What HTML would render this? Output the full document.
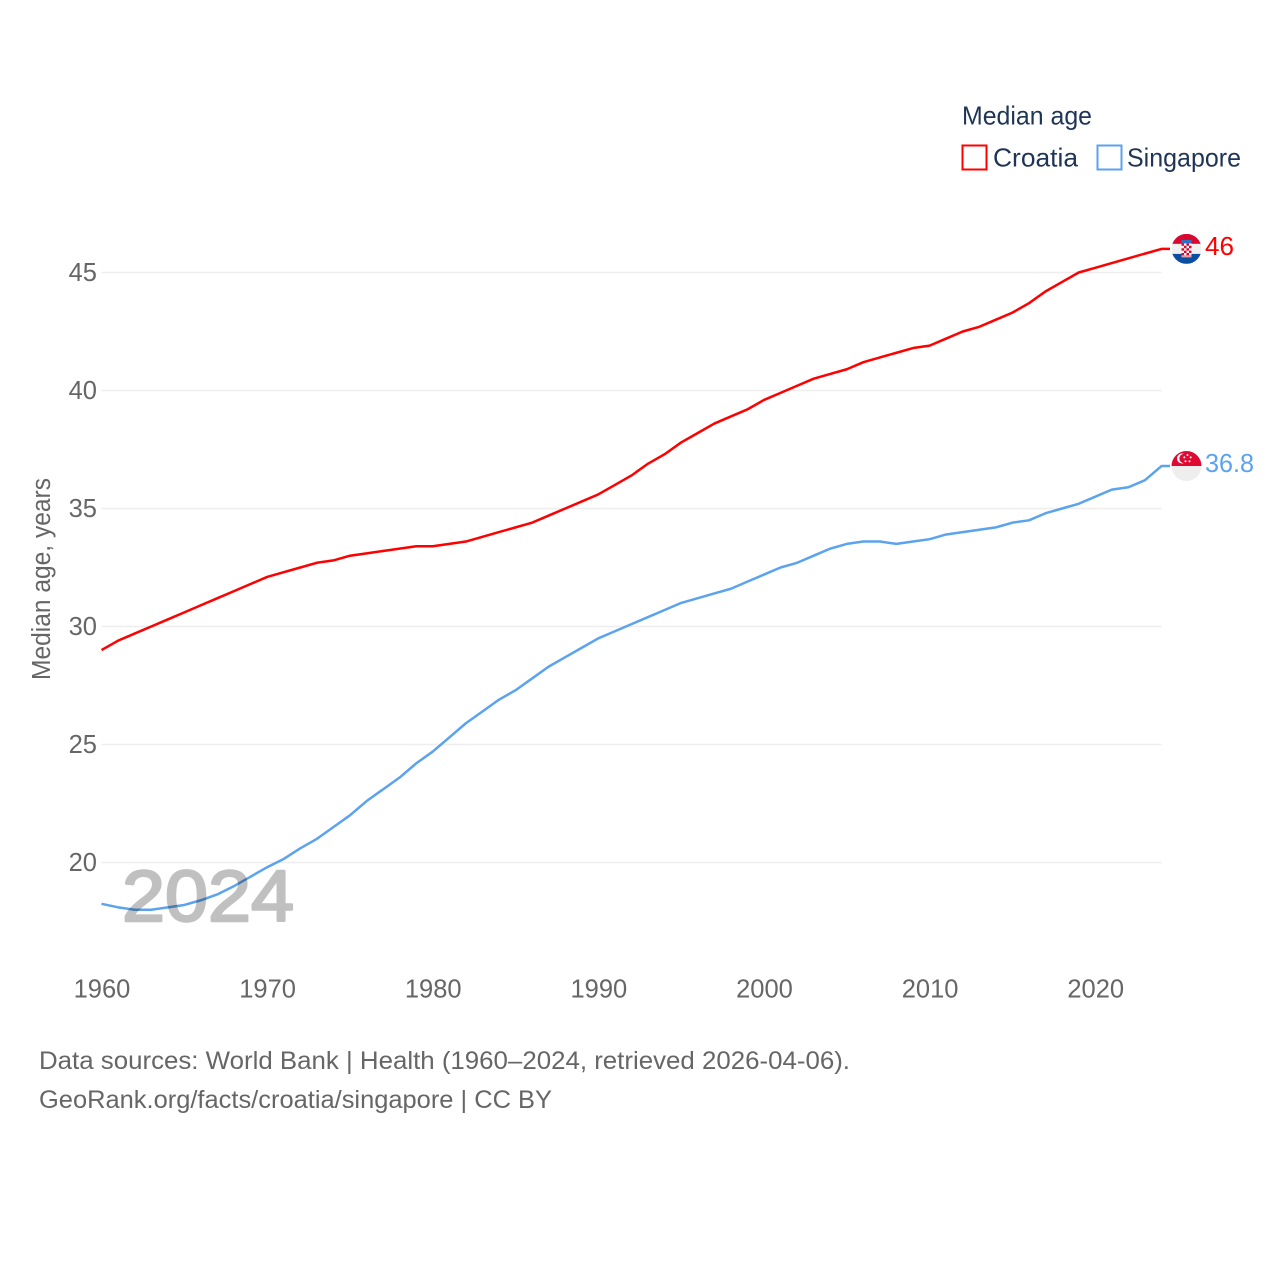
<!DOCTYPE html>
<html lang="en">
<head>
<meta charset="utf-8">
<title>Median age: Croatia and Singapore</title>
<style>
html,body{margin:0;padding:0;background:#fff;width:1280px;height:1280px;overflow:hidden}
svg{display:block}
text{font-family:"Liberation Sans",sans-serif}
.tick{font-size:25.5px;fill:#666}
.foot{font-size:25px;fill:#666}
.leg{font-size:26px;fill:#1f3556}
</style>
</head>
<body>
<svg id="chart" width="1280" height="1280" viewBox="0 0 1280 1280" xmlns="http://www.w3.org/2000/svg">
  <defs>
    <clipPath id="flag-clip"><circle cx="0" cy="0" r="15"/></clipPath>
  </defs>
  <g id="grid"></g>
  <g id="yticks"></g>
  <g id="xticks"></g>
  <text class="tick" transform="translate(50,579) rotate(-90)" text-anchor="middle" textLength="202" lengthAdjust="spacingAndGlyphs">Median age, years</text>
  <g id="series"></g>
  <text x="122" y="921" font-size="72" fill="#c0c0c0" stroke="#c0c0c0" stroke-width="2.4" stroke-linejoin="round" textLength="172" lengthAdjust="spacingAndGlyphs" style="mix-blend-mode:multiply">2024</text>

  <g id="flag-croatia">
    <g clip-path="url(#flag-clip)">
      <rect x="-15" y="-15" width="30" height="10" fill="#d8082f"/>
      <rect x="-15" y="-5" width="30" height="10" fill="#f0f0f0"/>
      <rect x="-15" y="5" width="30" height="10" fill="#0b4ea2"/>
      <rect x="-5" y="-9" width="10" height="3.5" fill="#2f6fc4"/>
      <rect x="-5" y="-5.5" width="10" height="12" fill="#f3f3f3"/>
      <path d="M-5-5.5h2.5v2.4H-5zM0-5.5h2.5v2.4H0zM-2.5-3.1H0v2.4h-2.5zM2.5-3.1H5v2.4H2.5zM-5-.7h2.5v2.4H-5zM0-.7h2.5v2.4H0zM-2.5 1.7H0v2.4h-2.5zM2.5 1.7H5v2.4H2.5zM-5 4.1h2.5v2.4H-5zM0 4.1h2.5v2.4H0z" fill="#d8082f"/>
      <rect x="-5" y="6.5" width="10" height="2" fill="#e8a0a8"/>
    </g>
  </g>
  <g id="flag-singapore">
    <g clip-path="url(#flag-clip)">
      <rect x="-15" y="-15" width="30" height="15" fill="#df0a33"/>
      <rect x="-15" y="0" width="30" height="15" fill="#eeeeee"/>
      <circle cx="-4.5" cy="-7.5" r="5" fill="#fff"/>
      <circle cx="-2.6" cy="-7.5" r="4.6" fill="#df0a33"/>
      <g fill="#fff">
        <circle cx="1" cy="-11" r="1"/>
        <circle cx="4.2" cy="-8.6" r="1"/>
        <circle cx="3" cy="-4.8" r="1"/>
        <circle cx="-1" cy="-4.8" r="1"/>
        <circle cx="-2.2" cy="-8.6" r="1"/>
      </g>
    </g>
  </g>
  <text id="value-croatia" x="1205" font-size="26" fill="#ff0000" textLength="29" lengthAdjust="spacingAndGlyphs"></text>
  <text id="value-singapore" x="1205" font-size="26" fill="#5ba3ee" textLength="49" lengthAdjust="spacingAndGlyphs"></text>

  <g>
    <text class="leg" x="962" y="124.5" textLength="130" lengthAdjust="spacingAndGlyphs">Median age</text>
    <rect x="962.5" y="145.5" width="24" height="24" fill="none" stroke="#ff0000" stroke-width="2"/>
    <text class="leg" x="993" y="166.5" textLength="85" lengthAdjust="spacingAndGlyphs">Croatia</text>
    <rect x="1097.5" y="145.5" width="24" height="24" fill="none" stroke="#5ba3ee" stroke-width="2"/>
    <text class="leg" x="1127" y="166.5" textLength="114" lengthAdjust="spacingAndGlyphs">Singapore</text>
  </g>

  <text class="foot" x="39" y="1069" textLength="811" lengthAdjust="spacingAndGlyphs">Data sources: World Bank | Health (1960–2024, retrieved 2026-04-06).</text>
  <text class="foot" x="39" y="1108" textLength="513" lengthAdjust="spacingAndGlyphs">GeoRank.org/facts/croatia/singapore | CC BY</text>
</svg>
<script>
const years = [1960,1961,1962,1963,1964,1965,1966,1967,1968,1969,1970,1971,1972,1973,1974,1975,1976,1977,1978,1979,1980,1981,1982,1983,1984,1985,1986,1987,1988,1989,1990,1991,1992,1993,1994,1995,1996,1997,1998,1999,2000,2001,2002,2003,2004,2005,2006,2007,2008,2009,2010,2011,2012,2013,2014,2015,2016,2017,2018,2019,2020,2021,2022,2023,2024];
const croatia = [29.0,29.4,29.7,30.0,30.3,30.6,30.9,31.2,31.5,31.8,32.1,32.3,32.5,32.7,32.8,33.0,33.1,33.2,33.3,33.4,33.4,33.5,33.6,33.8,34.0,34.2,34.4,34.7,35.0,35.3,35.6,36.0,36.4,36.9,37.3,37.8,38.2,38.6,38.9,39.2,39.6,39.9,40.2,40.5,40.7,40.9,41.2,41.4,41.6,41.8,41.9,42.2,42.5,42.7,43.0,43.3,43.7,44.2,44.6,45.0,45.2,45.4,45.6,45.8,46.0];
const singapore = [18.25,18.1,18.0,18.0,18.1,18.2,18.4,18.65,19.0,19.4,19.8,20.15,20.6,21.0,21.5,22.0,22.6,23.1,23.6,24.2,24.7,25.3,25.9,26.4,26.9,27.3,27.8,28.3,28.7,29.1,29.5,29.8,30.1,30.4,30.7,31.0,31.2,31.4,31.6,31.9,32.2,32.5,32.7,33.0,33.3,33.5,33.6,33.6,33.5,33.6,33.7,33.9,34.0,34.1,34.2,34.4,34.5,34.8,35.0,35.2,35.5,35.8,35.9,36.2,36.8];
const yTickValues = [20,25,30,35,40,45];
const xTickValues = [1960,1970,1980,1990,2000,2010,2020];

const NS = 'http://www.w3.org/2000/svg';
const x = function (year) { return 101.5 + (year - 1960) * (1060 / 64); };
const y = function (value) { return 272.5 + (45 - value) * 23.6; };
const END_X = 1170;

const grid = document.getElementById('grid');
const yticks = document.getElementById('yticks');
const xticks = document.getElementById('xticks');
const series = document.getElementById('series');

yTickValues.forEach(function (v) {
  const line = document.createElementNS(NS, 'line');
  
  
  line.setAttribute('x1', x(1960));
  line.setAttribute('x2', x(2024));
  line.setAttribute('y1', y(v));
  line.setAttribute('y2', y(v));
  line.setAttribute('stroke', '#eeeeee');
  line.setAttribute('stroke-width', '1.6');
  grid.appendChild(line);

  const label = document.createElementNS(NS, 'text');
  
  
  label.setAttribute('class', 'tick');
  label.setAttribute('x', 97);
  label.setAttribute('y', y(v) + 8.5);
  label.setAttribute('text-anchor', 'end');
  label.textContent = v;
  yticks.appendChild(label);
});

xTickValues.forEach(function (v) {
  const label = document.createElementNS(NS, 'text');
  
  
  label.setAttribute('class', 'tick');
  label.setAttribute('x', x(v) + 0.5);
  label.setAttribute('y', 997.5);
  label.setAttribute('text-anchor', 'middle');
  label.textContent = v;
  xticks.appendChild(label);
});

function linePoints(values) {
  const pts = values.map(function (v, i) { return x(years[i]) + ',' + y(v); });
  pts.push(END_X + ',' + y(values[values.length - 1]));
  return pts.join(' ');
}

const croatiaLine = document.createElementNS(NS, 'polyline');


croatiaLine.setAttribute('points', linePoints(croatia));
croatiaLine.setAttribute('fill', 'none');
croatiaLine.setAttribute('stroke', '#ff0000');
croatiaLine.setAttribute('stroke-width', '2.5');
croatiaLine.setAttribute('stroke-linejoin', 'round');
series.appendChild(croatiaLine);

const singaporeLine = document.createElementNS(NS, 'polyline');


singaporeLine.setAttribute('points', linePoints(singapore));
singaporeLine.setAttribute('fill', 'none');
singaporeLine.setAttribute('stroke', '#5ba3ee');
singaporeLine.setAttribute('stroke-width', '2.5');
singaporeLine.setAttribute('stroke-linejoin', 'round');
series.appendChild(singaporeLine);

function placeEnd(flagId, valueId, values) {
  const last = values[values.length - 1];
  document.getElementById(flagId).setAttribute('transform', 'translate(1186.5,' + y(last) + ')');
  const t = document.getElementById(valueId);
  t.setAttribute('y', y(last) + 6);
  t.textContent = last;
}
placeEnd('flag-croatia', 'value-croatia', croatia);
placeEnd('flag-singapore', 'value-singapore', singapore);
</script>
</body>
</html>
